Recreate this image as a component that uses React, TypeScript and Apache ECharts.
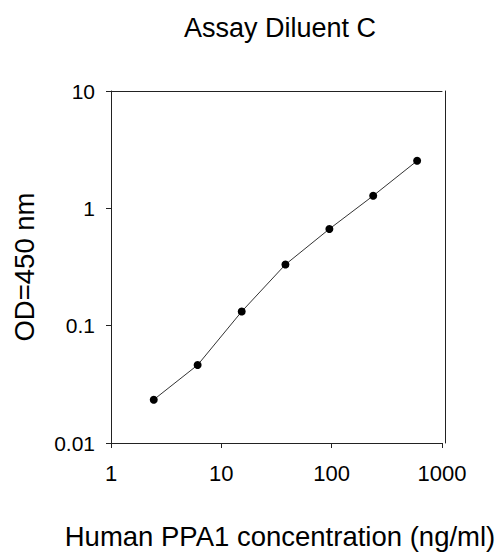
import React, { useEffect, useRef } from "react";
import * as echarts from "echarts";

const concentrations = [2.44, 6.1, 15.3, 38.1, 95.3, 238, 595];
const odValues = [0.0234, 0.0462, 0.132, 0.332, 0.667, 1.28, 2.54];
const titleText = "Assay Diluent C";
const xAxisName = "Human PPA1 concentration (ng/ml)";
const yAxisName = "OD=450 nm";

const FONT = "Arial, 'Liberation Sans', sans-serif";
const fmt = (v: number) => String(Number(v.toPrecision(3)));

export default function App() {
  const ref = useRef<HTMLDivElement>(null);
  useEffect(() => {
    if (!ref.current) return;
    const chart = echarts.init(ref.current, undefined, { renderer: "svg" });
    const axisLine = { show: true, lineStyle: { color: "#222", width: 1 } };
    chart.setOption({
      animation: false,
      backgroundColor: "#fff",
      title: {
        text: titleText,
        left: 275,
        top: 9,
        textAlign: "center",
        textStyle: { fontFamily: FONT, fontSize: 27, fontWeight: "normal", color: "#000" },
      },
      grid: {
        left: 111,
        top: 91,
        right: 61,
        bottom: 109,
        containLabel: false,
        outerBoundsMode: "none",
      },
      xAxis: [
        {
          type: "log",
          logBase: 10,
          min: 1,
          max: 1000,
          name: xAxisName,
          nameLocation: "middle",
          nameGap: 79,
          nameTextStyle: { fontFamily: FONT, fontSize: 27.5, color: "#000", padding: [0, 0, 0, 7] },
          axisLine,
          axisTick: { show: true, length: 5, inside: false, lineStyle: { color: "#222" } },
          minorTick: { show: false },
          splitLine: { show: false },
          axisLabel: { fontFamily: FONT, fontSize: 22, color: "#000", margin: 19, formatter: fmt },
        },
        {
          type: "log",
          logBase: 10,
          min: 1,
          max: 1000,
          position: "top",
          axisLine,
          axisTick: { show: false },
          axisLabel: { show: false },
          splitLine: { show: false },
        },
      ],
      yAxis: [
        {
          type: "log",
          logBase: 10,
          min: 0.01,
          max: 10,
          name: yAxisName,
          nameLocation: "middle",
          nameGap: 73,
          nameRotate: 90,
          nameTextStyle: { fontFamily: FONT, fontSize: 27.5, color: "#000" },
          axisLine,
          axisTick: { show: true, length: 5, inside: false, lineStyle: { color: "#222" } },
          splitLine: { show: false },
          axisLabel: {
            fontFamily: FONT,
            fontSize: 21,
            color: "#000",
            margin: 16,
            formatter: fmt,
          },
        },
        {
          type: "log",
          logBase: 10,
          min: 0.01,
          max: 10,
          position: "right",
          offset: 3,
          axisLine,
          axisTick: { show: false },
          axisLabel: { show: false },
          splitLine: { show: false },
        },
      ],
      series: [
        {
          type: "line",
          data: concentrations.map((c, i) => [c, odValues[i]]),
          symbol: "circle",
          symbolSize: 8,
          itemStyle: { color: "#000" },
          lineStyle: { color: "#333", width: 1 },
        },
      ],
    });
    return () => chart.dispose();
  }, []);
  return (
    <div
      ref={ref}
      style={{ position: "fixed", left: 0, top: 0, width: 503, height: 552 }}
    />
  );
}
